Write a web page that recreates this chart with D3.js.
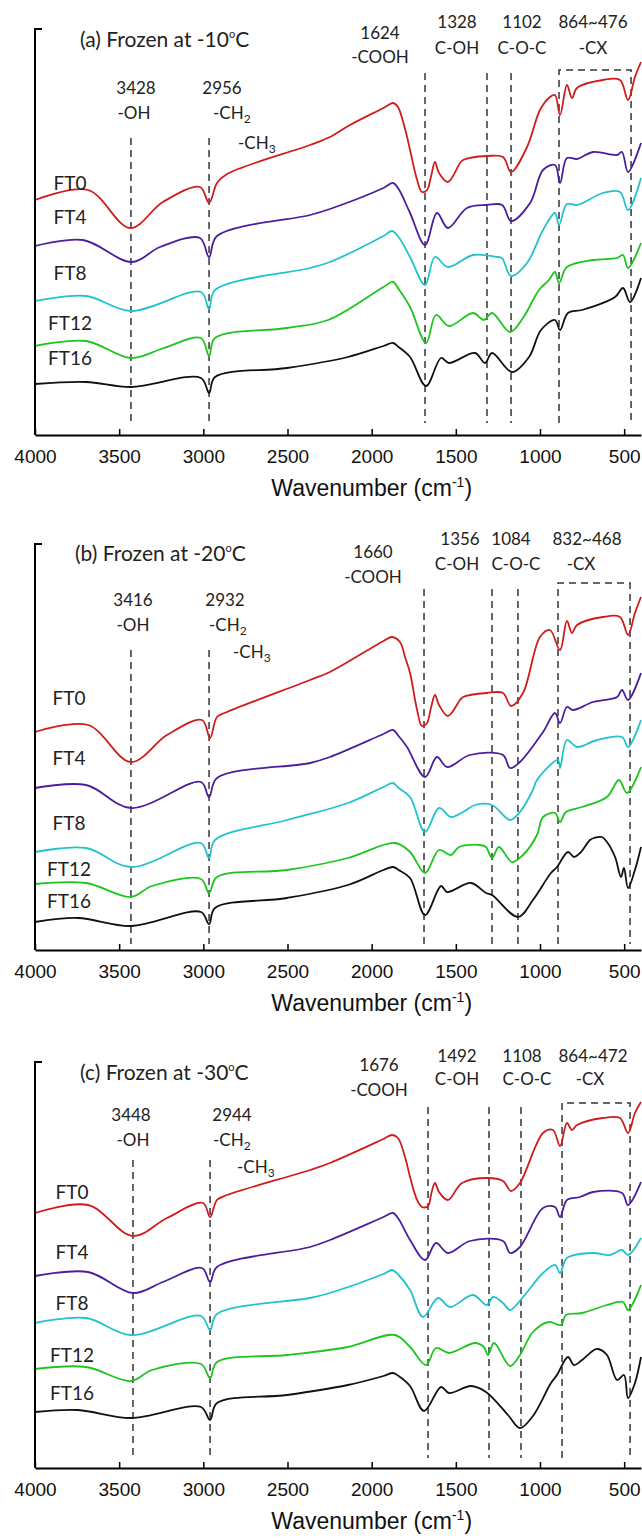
<!DOCTYPE html>
<html>
<head>
<meta charset="utf-8">
<script src="https://cdn.jsdelivr.net/npm/d3@7"></script>
<style>
  body { margin: 0; background: #fff; }
  svg { display: block; }
  .ann { font-family: Lato, "Open Sans", sans-serif; fill: #222; }
  .tick text { font-family: "Liberation Sans", Arial, sans-serif; }
</style>
</head>
<body>
<svg id="chart" width="642" height="1538"></svg>
<script>
// ---- data -------------------------------------------------------------
const wavenumberTicks = [4000, 3500, 3000, 2500, 2000, 1500, 1000, 500];
const seriesNames = ["FT0", "FT4", "FT8", "FT12", "FT16"];

// FTIR spectra, [wavenumber (cm^-1), transmittance (a.u., stacked)]
// (a) frozen at -10 °C
const a_FT0 = [[4000,235],[3685,245],[3435,207],[3240,233],[3020,248],[2966,232],[2919,252],[2859,261],[2366,290],[2248,298],[2129,310],[1930,327],[1873,332],[1844,328],[1800,305],[1772,285],[1730,255],[1701,243],[1671,245],[1648,258],[1624,273],[1600,262],[1547,253],[1475,272],[1457,275],[1315,279],[1220,278],[1172,263],[1077,288],[1000,325],[941,338],[911,340],[881,320],[840,350],[810,337],[780,347],[626,355],[525,355],[477,335],[436,358],[400,373]];
const a_FT4 = [[4000,189],[3715,195],[3424,173],[3257,188],[3020,197],[2966,178],[2919,199],[2366,220],[2248,226],[1930,247],[1873,252],[1840,246],[1772,222],[1683,190],[1612,222],[1547,207],[1434,227],[1315,230],[1225,230],[1172,214],[1059,232],[982,265],[911,270],[881,252],[840,277],[780,276],[685,283],[542,280],[513,283],[477,263],[400,292]];
const a_FT8 = [[4000,134],[3697,139],[3430,124],[3014,143],[2966,126],[2931,145],[2366,167],[2248,173],[1930,199],[1879,204],[1840,198],[1772,178],[1683,150],[1624,178],[1547,168],[1398,180],[1255,178],[1226,177],[1172,159],[1077,172],[982,205],[911,222],[887,210],[840,231],[780,230],[626,242],[525,243],[477,225],[400,257]];
const a_FT12 = [[4000,89],[3697,94],[3430,77],[3234,87],[3014,97],[2966,79],[2931,97],[2503,107],[2259,115],[1930,148],[1873,153],[1840,146],[1772,128],[1677,92],[1618,120],[1541,109],[1398,122],[1333,115],[1285,122],[1178,103],[1101,117],[1006,145],[947,155],[911,163],[887,152],[840,168],[685,175],[542,177],[507,180],[477,167],[400,192]];
const a_FT16 = [[4000,51],[3697,53],[3430,48],[3014,57],[2966,42],[2931,58],[2503,67],[2141,78],[1930,89],[1873,92],[1840,88],[1772,78],[1677,49],[1588,77],[1541,72],[1386,82],[1327,72],[1285,82],[1166,63],[1065,78],[994,105],[911,115],[881,105],[834,122],[750,125],[554,138],[507,147],[465,133],[400,157]];

// (b) frozen at -20 °C
const b_FT0 = [[4000,218],[3685,225],[3430,188],[3216,215],[3008,230],[2960,212],[2919,233],[2859,238],[2366,270],[2248,278],[1930,309],[1879,313],[1832,308],[1800,292],[1772,277],[1730,240],[1701,224],[1671,227],[1648,242],[1624,255],[1600,245],[1547,234],[1475,250],[1457,253],[1315,257],[1220,257],[1172,244],[1101,257],[1000,313],[941,320],[881,300],[840,329],[810,317],[780,325],[626,333],[525,333],[477,315],[436,337],[400,353]];
const b_FT4 = [[4000,162],[3697,165],[3430,142],[3014,168],[2966,153],[2919,172],[2366,187],[2248,193],[1930,216],[1873,220],[1840,214],[1790,203],[1683,173],[1612,193],[1552,183],[1416,195],[1220,195],[1178,182],[1119,188],[982,218],[911,237],[881,227],[840,243],[804,240],[685,248],[542,253],[513,260],[477,250],[400,277]];
const b_FT8 = [[4000,98],[3697,102],[3430,83],[3014,107],[2966,92],[2931,110],[2503,130],[2141,147],[1930,163],[1873,167],[1840,162],[1772,153],[1683,118],[1600,142],[1529,133],[1457,138],[1386,145],[1285,145],[1178,130],[1119,138],[1042,160],[1018,170],[893,190],[881,182],[840,210],[780,203],[661,210],[513,213],[477,203],[400,230]];
const b_FT12 = [[4000,66],[3697,67],[3430,53],[3305,64],[3014,71],[2966,57],[2919,73],[2503,80],[2141,92],[1861,107],[1772,98],[1683,77],[1600,100],[1529,95],[1481,103],[1356,105],[1321,103],[1285,92],[1244,103],[1166,88],[1101,95],[1018,115],[982,133],[911,137],[881,128],[846,138],[750,143],[602,153],[531,170],[483,157],[400,183]];
const b_FT16 = [[4000,28],[3745,32],[3430,24],[3014,38],[2966,26],[2931,42],[2503,52],[2141,65],[1930,80],[1873,83],[1840,80],[1772,72],[1683,35],[1588,64],[1552,58],[1410,67],[1321,57],[1285,55],[1131,33],[1042,50],[935,77],[899,83],[834,98],[798,93],[762,97],[703,110],[679,112],[632,113],[602,108],[554,93],[519,73],[501,82],[477,62],[436,80],[400,103]];

// (c) frozen at -30 °C
const c_FT0 = [[4000,255],[3685,263],[3418,232],[3216,250],[3002,265],[2960,251],[2919,268],[2859,273],[2366,298],[2248,305],[1930,329],[1879,333],[1844,330],[1800,310],[1772,291],[1730,268],[1701,261],[1665,262],[1645,275],[1624,285],[1600,276],[1547,268],[1463,285],[1315,290],[1220,287],[1172,277],[1119,285],[982,335],[923,338],[881,322],[840,345],[810,338],[780,343],[626,350],[525,350],[477,335],[436,355],[400,366]];
const c_FT4 = [[4000,192],[3685,196],[3418,175],[3240,186],[3008,200],[2960,186],[2919,201],[2366,221],[2248,228],[1930,251],[1873,255],[1840,249],[1772,228],[1683,208],[1618,225],[1547,215],[1416,227],[1220,227],[1178,215],[1119,221],[982,260],[911,261],[881,251],[840,268],[762,271],[685,276],[513,275],[477,263],[400,286]];
const c_FT8 = [[4000,145],[3697,150],[3430,133],[3014,152],[2960,138],[2919,154],[2366,170],[2248,175],[1930,194],[1879,198],[1840,193],[1772,178],[1695,151],[1606,170],[1535,161],[1398,173],[1315,163],[1279,171],[1220,165],[1178,158],[1101,171],[982,195],[911,203],[881,195],[840,210],[685,215],[584,213],[513,218],[477,213],[400,230]];
const c_FT12 = [[4000,99],[3697,101],[3430,87],[3305,98],[3014,104],[2960,90],[2919,106],[2503,113],[2141,121],[1861,133],[1772,121],[1677,103],[1618,120],[1541,115],[1386,125],[1333,121],[1309,113],[1273,125],[1178,102],[1119,113],[1042,136],[947,146],[875,143],[846,153],[750,155],[602,163],[507,166],[477,158],[400,183]];
const c_FT16 = [[4000,56],[3745,58],[3430,50],[3014,61],[2960,48],[2919,65],[2503,73],[2141,83],[1930,92],[1873,95],[1840,92],[1772,82],[1689,57],[1588,81],[1541,75],[1410,82],[1321,76],[1190,53],[1119,40],[1042,52],[935,85],[899,93],[834,111],[798,103],[750,108],[679,118],[655,119],[602,113],[542,88],[501,93],[477,70],[436,85],[400,111]];

// guide lines (cm^-1): -OH, -CH2/-CH3, -COOH, C-OH, C-O-C; then the -CX window
const markersA = [3430, 2966, 1683, 1315, 1172];
const markersB = [3430, 2966, 1689, 1285, 1131];
const markersC = [3418, 2960, 1665, 1303, 1113];
const cxWindowA = [887, 459];
const cxWindowB = [893, 465];
const cxWindowC = [869, 465];

// band assignments
const bandNumbersA = ["3428", "2956", "1624", "1328", "1102", "864~476"];
const bandNumbersB = ["3416", "2932", "1660", "1356", "1084", "832~468"];
const bandNumbersC = ["3448", "2944", "1676", "1492", "1108", "864~472"];
const bandGroups = ["-OH", "-CH", "-COOH", "C-OH", "C-O-C", "-CX"];
const panelTitles = ["(a) Frozen at -10", "(b) Frozen at -20", "(c) Frozen at -30"];

// ---- styles & layout ----------------------------------------------------
const seriesColors = ["#d01c1c", "#4a1f9e", "#22c3cc", "#1ec51e", "#111111"];
const X0 = 35, X1 = 641, PANEL_H = 406;

const panels = [
  { title: panelTitles[0], titleX: 80, titleY: 47, bottom: 435,
    series: [a_FT0, a_FT4, a_FT8, a_FT12, a_FT16],
    labelY: [190, 224, 280, 330, 365], labelX: 70,
    markers: markersA, cx: cxWindowA, numbers: bandNumbersA,
    numX: [136, 222, 380, 457, 522, 593], numY: [94, 94, 39, 28, 28, 28],
    grpX: [134, 213, 380, 457, 522, 593], grpY: [119, 119, 63, 54, 54, 54], ch3: [238, 149],
    lineTop: [138, 138, 73, 73, 73], boxTop: 70, lineBottom: 423 },
  { title: panelTitles[1], titleX: 75, titleY: 561, bottom: 950,
    series: [b_FT0, b_FT4, b_FT8, b_FT12, b_FT16],
    labelY: [705, 765, 830, 876, 908], labelX: 69,
    markers: markersB, cx: cxWindowB, numbers: bandNumbersB,
    numX: [133, 225, 373, 460, 511, 587], numY: [606, 606, 558, 545, 545, 545],
    grpX: [133, 209, 373, 457, 516, 581], grpY: [631, 631, 583, 570, 570, 570], ch3: [233, 658],
    lineTop: [650, 650, 589, 589, 589], boxTop: 583, lineBottom: 944 },
  { title: panelTitles[2], titleX: 80, titleY: 1080, bottom: 1468,
    series: [c_FT0, c_FT4, c_FT8, c_FT12, c_FT16],
    labelY: [1199, 1259, 1310, 1362, 1400], labelX: 72,
    markers: markersC, cx: cxWindowC, numbers: bandNumbersC,
    numX: [131, 232, 379, 457, 522, 593], numY: [1121, 1121, 1071, 1062, 1062, 1062],
    grpX: [133, 213, 379, 457, 527, 590], grpY: [1146, 1146, 1096, 1085, 1085, 1085], ch3: [237, 1173],
    lineTop: [1160, 1160, 1107, 1107, 1107], boxTop: 1103, lineBottom: 1458 }
];

const svg = d3.select("#chart");
const x = d3.scaleLinear().domain([4000, 400]).range([X0, X1]);
const dash = "7,5";
const guideColor = "#333";

panels.forEach(p => {
  const top = p.bottom - PANEL_H;
  const y = d3.scaleLinear().domain([0, PANEL_H]).range([p.bottom, top]);
  const g = svg.append("g");

  // guide lines
  p.markers.forEach((m, i) => {
    g.append("line")
      .attr("x1", x(m)).attr("x2", x(m))
      .attr("y1", p.lineTop[i]).attr("y2", p.lineBottom)
      .attr("stroke", guideColor).attr("stroke-width", 1.5)
      .attr("stroke-dasharray", dash);
  });
  // -CX window: open dashed box
  g.append("path")
    .attr("d", `M${x(p.cx[0])},${p.lineBottom}V${p.boxTop}H${x(p.cx[1])}V${p.lineBottom}`)
    .attr("fill", "none").attr("stroke", guideColor).attr("stroke-width", 1.5)
    .attr("stroke-dasharray", dash);

  // spectra
  const line = d3.line().x(d => x(d[0])).y(d => y(d[1])).curve(d3.curveCatmullRom.alpha(0.5));
  p.series.forEach((s, i) => {
    const pts = s.slice().sort((a, b) => b[0] - a[0]);
    g.append("path").datum(pts)
      .attr("d", line)
      .attr("fill", "none")
      .attr("stroke", seriesColors[i])
      .attr("stroke-width", 1.8)
      .attr("stroke-linejoin", "round");
  });

  // series labels
  seriesNames.forEach((n, i) => {
    g.append("text").attr("class", "ann")
      .attr("x", p.labelX).attr("y", p.labelY[i])
      .attr("text-anchor", "middle").attr("font-size", 19)
      .text(n);
  });

  // band labels
  p.numbers.forEach((t, i) => {
    g.append("text").attr("class", "ann")
      .attr("x", p.numX[i]).attr("y", p.numY[i])
      .attr("text-anchor", "middle").attr("font-size", 17).text(t);
  });
  bandGroups.forEach((t, i) => {
    const txt = g.append("text").attr("class", "ann")
      .attr("x", p.grpX[i]).attr("y", p.grpY[i])
      .attr("font-size", 17)
      .attr("text-anchor", i === 1 ? "start" : "middle");
    if (i === 1) {
      txt.append("tspan").text("-CH");
      txt.append("tspan").attr("font-size", 12).attr("dy", 4).text("2");
    } else {
      txt.text(t);
    }
  });
  const ch3 = g.append("text").attr("class", "ann")
    .attr("x", p.ch3[0]).attr("y", p.ch3[1]).attr("font-size", 17);
  ch3.append("tspan").text("-CH");
  ch3.append("tspan").attr("font-size", 12).attr("dy", 4).text("3");

  // title
  const title = g.append("text").attr("class", "ann")
    .attr("x", p.titleX).attr("y", p.titleY).attr("font-size", 21);
  title.append("tspan").text(p.title);
  title.append("tspan").attr("font-size", 11).attr("dy", -9).text("o");
  title.append("tspan").attr("dy", 9).text("C");

  // axes
  const ax = d3.axisBottom(x).tickValues(wavenumberTicks)
    .tickSizeInner(-6).tickSizeOuter(0).tickPadding(15)
    .tickFormat(d3.format("d"));
  const axG = g.append("g").attr("transform", `translate(0,${p.bottom})`).call(ax);
  axG.select(".domain").attr("stroke", "#000").attr("stroke-width", 2);
  axG.selectAll(".tick line").attr("stroke", "#000").attr("stroke-width", 1.5);
  axG.selectAll(".tick text").attr("font-size", 19).attr("fill", "#111");

  g.append("path")
    .attr("d", `M${X0 + 7},${top}H${X0}V${p.bottom}`)
    .attr("fill", "none").attr("stroke", "#000").attr("stroke-width", 2);

  const xt = g.append("text")
    .attr("x", x(2000)).attr("y", p.bottom + 61)
    .attr("text-anchor", "middle")
    .attr("font-family", "'Liberation Sans', Arial, sans-serif")
    .attr("font-size", 23).attr("fill", "#111");
  xt.append("tspan").text("Wavenumber (cm");
  xt.append("tspan").attr("font-size", 14).attr("dy", -9).text("-1");
  xt.append("tspan").attr("dy", 9).text(")");
});
</script>
</body>
</html>
